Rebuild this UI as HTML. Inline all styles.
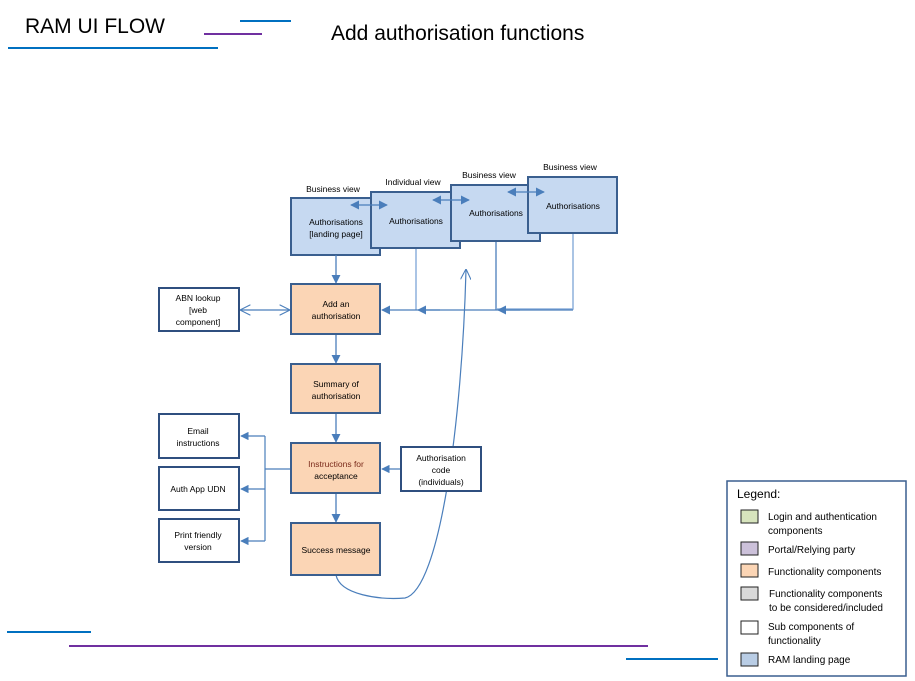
<!DOCTYPE html>
<html><head><meta charset="utf-8"><style>
html,body{margin:0;padding:0;background:#fff;}
svg{display:block;font-family:"Liberation Sans",sans-serif;}
</style></head><body>
<svg width="915" height="681" viewBox="0 0 915 681" xmlns="http://www.w3.org/2000/svg">
<defs>
<marker id="a" viewBox="0 0 10 10" refX="9" refY="5" markerWidth="7" markerHeight="7" orient="auto-start-reverse"><path d="M0,0 L10,5 L0,10 z" fill="#4a7ebb"/></marker>
<marker id="o" viewBox="0 0 10 10" refX="9" refY="5" markerWidth="9" markerHeight="9" orient="auto-start-reverse"><path d="M0,0 L10,5 L0,10" fill="none" stroke="#4a7ebb" stroke-width="1"/></marker>
</defs>
<!-- header -->
<text x="25" y="33" font-size="21" fill="#000">RAM UI FLOW</text>
<line x1="8" y1="48" x2="218" y2="48" stroke="#0070c0" stroke-width="2"/>
<line x1="204" y1="34" x2="262" y2="34" stroke="#7030a0" stroke-width="2"/>
<line x1="240" y1="21" x2="291" y2="21" stroke="#0070c0" stroke-width="2"/>
<text x="331" y="40" font-size="21" fill="#000">Add authorisation functions</text>
<line x1="7" y1="632" x2="91" y2="632" stroke="#0070c0" stroke-width="2"/>
<line x1="69" y1="646" x2="648" y2="646" stroke="#7030a0" stroke-width="2"/>
<line x1="626" y1="659" x2="718" y2="659" stroke="#0070c0" stroke-width="2"/>

<g font-size="8.5" text-anchor="middle" fill="#000">
<text x="333" y="192">Business view</text>
<text x="413" y="185">Individual view</text>
<text x="489" y="178">Business view</text>
<text x="570" y="170">Business view</text>
</g>
<!-- connectors from views -->
<g stroke="#8eb0dc" stroke-width="1.5" fill="none">
<polyline points="416,248 416,310"/>
<polyline points="573,233 573,309 497,309"/>
</g>
<line x1="496" y1="241" x2="496" y2="310" stroke="#4a7ebb" stroke-width="1.3"/>
<line x1="573" y1="310" x2="382" y2="310" stroke="#4a7ebb" stroke-width="1.3" marker-end="url(#a)"/>
<line x1="440" y1="310" x2="418" y2="310" stroke="#4a7ebb" stroke-width="1.3" marker-end="url(#a)"/>
<line x1="520" y1="310" x2="498" y2="310" stroke="#4a7ebb" stroke-width="1.3" marker-end="url(#a)"/>

<!-- blue view boxes -->
<g fill="#c6d9f1" stroke="#3a5f8f" stroke-width="2">
<rect x="291" y="198" width="89" height="57"/>
<rect x="371" y="192" width="89" height="56"/>
<rect x="451" y="185" width="89" height="56"/>
<rect x="528" y="177" width="89" height="56"/>
</g>
<g font-size="8.5" text-anchor="middle" fill="#000">
<text x="336" y="225">Authorisations</text>
<text x="336" y="237">[landing page]</text>
<text x="416" y="224">Authorisations</text>
<text x="496" y="216">Authorisations</text>
<text x="573" y="209">Authorisations</text>
</g>
<g stroke="#4a7ebb" stroke-width="1.3">
<line x1="351" y1="205" x2="387" y2="205" marker-start="url(#a)" marker-end="url(#a)"/>
<line x1="433" y1="200" x2="469" y2="200" marker-start="url(#a)" marker-end="url(#a)"/>
<line x1="508" y1="192" x2="544" y2="192" marker-start="url(#a)" marker-end="url(#a)"/>
<line x1="336" y1="255" x2="336" y2="283" marker-end="url(#a)"/>
<line x1="336" y1="334" x2="336" y2="363" marker-end="url(#a)"/>
<line x1="336" y1="413" x2="336" y2="442" marker-end="url(#a)"/>
<line x1="336" y1="493" x2="336" y2="522" marker-end="url(#a)"/>
</g>
<line x1="241" y1="310" x2="289" y2="310" stroke="#4a7ebb" stroke-width="1.2" marker-start="url(#o)" marker-end="url(#o)"/>
<!-- left branch -->
<g stroke="#4a7ebb" stroke-width="1.2" fill="none">
<polyline points="291,469 265,469"/>
<polyline points="265,436 265,541"/>
<line x1="265" y1="436" x2="241" y2="436" marker-end="url(#a)"/>
<line x1="265" y1="489" x2="241" y2="489" marker-end="url(#a)"/>
<line x1="265" y1="541" x2="241" y2="541" marker-end="url(#a)"/>
<line x1="401" y1="469" x2="382" y2="469" marker-end="url(#a)"/>
<path d="M336,575 C340,595 380,600 405,598 C440,590 462,420 466,270" marker-end="url(#o)"/>
</g>
<!-- orange boxes -->
<g fill="#fbd5b5" stroke="#3a5f8f" stroke-width="2">
<rect x="291" y="284" width="89" height="50"/>
<rect x="291" y="364" width="89" height="49"/>
<rect x="291" y="443" width="89" height="50"/>
<rect x="291" y="523" width="89" height="52"/>
</g>
<!-- white boxes -->
<g fill="#fff" stroke="#2f4f7f" stroke-width="2">
<rect x="159" y="288" width="80" height="43"/>
<rect x="159" y="414" width="80" height="44"/>
<rect x="159" y="467" width="80" height="43"/>
<rect x="159" y="519" width="80" height="43"/>
<rect x="401" y="447" width="80" height="44"/>
</g>
<g font-size="8.5" text-anchor="middle" fill="#000">
<text x="336" y="307">Add an</text><text x="336" y="319">authorisation</text>
<text x="336" y="387">Summary of</text><text x="336" y="399">authorisation</text>
<text x="336" y="467" fill="#7a2a1a">Instructions  for</text><text x="336" y="479">acceptance</text>
<text x="336" y="553">Success message</text>
<text x="198" y="301">ABN lookup</text><text x="198" y="313">[web</text><text x="198" y="325">component]</text>
<text x="198" y="434">Email</text><text x="198" y="446">instructions</text>
<text x="198" y="492">Auth App UDN</text>
<text x="198" y="538">Print friendly</text><text x="198" y="550">version</text>
<text x="441" y="461">Authorisation</text><text x="441" y="473">code</text><text x="441" y="485">(individuals)</text>
</g>
<!-- legend -->
<rect x="727" y="481" width="179" height="195" fill="#fff" stroke="#3a5f8f" stroke-width="1.5"/>
<text x="737" y="498" font-size="12">Legend:</text>
<g stroke="#222" stroke-width="1">
<rect x="741" y="510" width="17" height="13" fill="#d7e4bd"/>
<rect x="741" y="542" width="17" height="13" fill="#ccc1da"/>
<rect x="741" y="564" width="17" height="13" fill="#fbd5b5"/>
<rect x="741" y="587" width="17" height="13" fill="#d9d9d9"/>
<rect x="741" y="621" width="17" height="13" fill="#fff"/>
<rect x="741" y="653" width="17" height="13" fill="#b9cde5"/>
</g>
<g font-size="10" fill="#000">
<text x="768" y="520">Login and authentication</text><text x="768" y="534">components</text>
<text x="768" y="553">Portal/Relying party</text>
<text x="768" y="575">Functionality components</text>
<text x="769" y="597">Functionality components</text><text x="769" y="611">to be considered/included</text>
<text x="768" y="630">Sub components of</text><text x="768" y="644">functionality</text>
<text x="768" y="663">RAM landing page</text>
</g>
</svg>
</body></html>
